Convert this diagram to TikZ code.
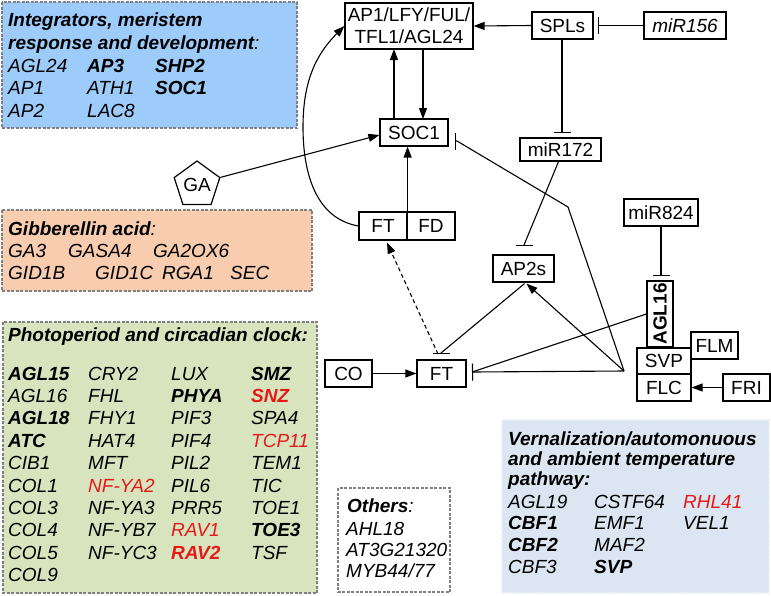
\documentclass[tikz,border=0pt]{standalone}
\usepackage{fontspec}
\setmainfont{Liberation Sans}
\usetikzlibrary{arrows.meta,shapes.geometric,calc}
\definecolor{bluebox}{RGB}{157,203,250}
\definecolor{peachbox}{RGB}{248,204,174}
\definecolor{greenbox}{RGB}{215,228,190}
\definecolor{vernbox}{RGB}{220,230,242}
\definecolor{vernline}{RGB}{236,241,248}
\definecolor{txtred}{RGB}{230,25,25}
\definecolor{panelline}{RGB}{128,128,128}
\newcommand{\fs}{\fontsize{19}{21.7}\selectfont}
\newcommand{\red}[1]{\textcolor{txtred}{#1}}
\begin{document}
\begin{tikzpicture}[x=1pt,y=-1pt,
  box/.style={draw, line width=1.2pt, inner sep=0pt, font=\fs},
  con/.style={line width=1.1pt},
  arr/.style={con, -{Triangle[length=11pt,width=8pt]}},
  inh/.style={con, -{Bar[width=17pt,line width=1.1pt]}},
  panel/.style={draw=panelline, line width=1.2pt, dash pattern=on 3pt off 1.5pt},
  lst/.style={anchor=base west, inner sep=0pt, font=\fs\itshape},
  ttl/.style={anchor=base west, inner sep=0pt, font=\fs\itshape}]
\useasboundingbox (0,0) rectangle (771,595);

% ---------- panels ----------
\draw[panel, fill=bluebox] (2,2) rectangle (297,128);
\draw[panel, fill=peachbox] (2,210) rectangle (312,291);
\draw[panel, fill=greenbox] (3,322) rectangle (317,593);
\draw[panel, fill=white] (338,488) rectangle (450,592);
\draw[panel, draw=vernline, fill=vernbox] (502,420) rectangle (769,593);

% ---------- integrators ----------
\node[ttl] (t1a) at (8,26) {\textbf{Integrators, meristem}};
\node[ttl] (t1b) at (8,49) {\textbf{response and development}:};
\foreach \t [count=\i] in {AGL24,AP1,AP2}
  \node[lst] (ia\i) at (8,{72+22.75*(\i-1)}) {\t};
\foreach \t [count=\i] in {\textbf{AP3},ATH1,LAC8}
  \node[lst] (ib\i) at (87,{72+22.75*(\i-1)}) {\t};
\foreach \t [count=\i] in {\textbf{SHP2},\textbf{SOC1}}
  \node[lst] (ic\i) at (155,{72+22.75*(\i-1)}) {\t};

% ---------- gibberellin ----------
\node[ttl] (t2) at (8,235) {\textbf{Gibberellin acid}:};
\node[lst] (g1) at (8,257.5) {GA3};
\node[lst] (g2) at (68,257.5) {GASA4};
\node[lst] (g3) at (153,257.5) {GA2OX6};
\node[lst] (g4) at (8,279) {GID1B};
\node[lst] (g5) at (95,279) {GID1C};
\node[lst] (g6) at (162,279) {RGA1};
\node[lst] (g7) at (230,279) {SEC};

% ---------- photoperiod ----------
\node[ttl] (t3) at (8,341) {\textbf{Photoperiod and circadian clock:}};
\foreach \t [count=\i] in {\textbf{AGL15},AGL16,\textbf{AGL18},\textbf{ATC},CIB1,COL1,COL3,COL4,COL5,COL9}
  \node[lst] (pa\i) at (8,{380+22.4*(\i-1)}) {\t};
\foreach \t [count=\i] in {CRY2,FHL,FHY1,HAT4,MFT,\red{NF-YA2},NF-YA3,NF-YB7,NF-YC3}
  \node[lst] (pb\i) at (88,{380+22.4*(\i-1)}) {\t};
\foreach \t [count=\i] in {LUX,\textbf{PHYA},PIF3,PIF4,PIL2,PIL6,PRR5,\red{RAV1},\red{\textbf{RAV2}}}
  \node[lst] (pc\i) at (171,{380+22.4*(\i-1)}) {\t};
\foreach \t [count=\i] in {\textbf{SMZ},\red{\textbf{SNZ}},SPA4,\red{TCP11},TEM1,TIC,TOE1,\textbf{TOE3},TSF}
  \node[lst] (pd\i) at (251,{380+22.4*(\i-1)}) {\t};

% ---------- others ----------
\node[ttl] (t4) at (347,512.7) {\textbf{Others}:};
\foreach \t [count=\i] in {AHL18,AT3G21320,MYB44/77}
  \node[lst] (o\i) at (346,{535+21*(\i-1)}) {\t};

% ---------- vernalization ----------
\node[ttl] (t5a) at (508,445) {\textbf{Vernalization/automonuous}};
\node[ttl] (t5b) at (508,465) {\textbf{and ambient temperature}};
\node[ttl] (t5c) at (508,485) {\textbf{pathway:}};
\foreach \t [count=\i] in {AGL19,\textbf{CBF1},\textbf{CBF2},CBF3}
  \node[lst] (va\i) at (508,{508+21.8*(\i-1)}) {\t};
\foreach \t [count=\i] in {CSTF64,EMF1,MAF2,\textbf{SVP}}
  \node[lst] (vb\i) at (594,{508+21.8*(\i-1)}) {\t};
\foreach \t [count=\i] in {\red{RHL41},VEL1}
  \node[lst] (vc\i) at (683,{508+21.8*(\i-1)}) {\t};

% ---------- network nodes ----------
\node[box, minimum width=128pt, minimum height=46pt, align=center] (ap1) at (409,26) {AP1/LFY/FUL/\\TFL1/AGL24};
\node[box, minimum width=61pt, minimum height=27pt] (spls) at (562.5,25.5) {SPLs};
\node[box, minimum width=82pt, minimum height=27pt] (mir156) at (685,25.5) {\itshape miR156};
\node[box, minimum width=68pt, minimum height=27pt] (soc1) at (414,132.5) {SOC1};
\node[box, minimum width=81pt, minimum height=23pt] (mir172) at (560.5,149.5) {miR172};
\node[box, minimum width=48pt, minimum height=28pt] (ftc) at (383,226) {FT};
\node[box, minimum width=48pt, minimum height=28pt] (fdc) at (431,226) {FD};
\node[box, minimum width=61pt, minimum height=27pt] (ap2s) at (523.5,268.5) {AP2s};
\node[box, minimum width=74pt, minimum height=27pt] (mir824) at (661,212.5) {miR824};
\node[box, rotate=90, minimum width=66pt, minimum height=26pt, font=\fs\bfseries] (agl16) at (660,314) {AGL16};
\node[box, minimum width=54pt, minimum height=26pt] (svp) at (664,361) {SVP};
\node[box, minimum width=54pt, minimum height=27pt] (flc) at (664,387.5) {FLC};
\node[box, minimum width=47pt, minimum height=27pt] (flm) at (714.5,345.5) {FLM};
\node[box, minimum width=47pt, minimum height=27pt] (fri) at (746.5,387.5) {FRI};
\node[box, minimum width=47pt, minimum height=27pt] (co) at (348.5,373.5) {CO};
\node[box, minimum width=49pt, minimum height=27pt] (ft) at (441.5,373.5) {FT};
\node[draw, line width=1.2pt, regular polygon, regular polygon sides=5, minimum size=46pt, inner sep=0pt, font=\fs] (ga) at (197,185) {GA};

% ---------- helper coordinates ----------
\coordinate (hub) at (624,371);
\coordinate (bend) at (568,207);
\coordinate (socbar) at (455,141);
\coordinate (ftbarR) at (472,372);
\coordinate (ftbarT) at (441,354);
\coordinate (ap2sbar) at (524,246);
\coordinate (mir172bar) at (562,133);
\coordinate (splsbar) at (598,25.5);
\coordinate (aglbar) at (661,276);
\coordinate (curvemid) at (303,127);
\coordinate (socupS) at (394,119);
\coordinate (socupE) at (394,49);
\coordinate (socdnS) at (423,49);
\coordinate (socdnE) at (423,119);

% ---------- connectors ----------
\draw[arr] (spls.west) -- (ap1.east);
\draw[inh] (mir156.west) -- (splsbar);
\draw[inh] (spls.south -| mir172bar) -- (mir172bar);
\draw[arr] (socupS) -- (socupE);
\draw[arr] (socdnS) -- (socdnE);
\draw[arr] (ga.corner 5) -- ($(soc1.west)+(0,2.5)$);
\draw[arr] (ftc.north east) -- (ftc.north east |- soc1.south);
\draw[arr] (ftc.west) to[out=170,in=270] (curvemid) to[out=90,in=225] (ap1.west);
\draw[inh] ($(mir172.south)+(-2,0)$) -- ($(ap2sbar)+(0,-1)$) -- (ap2sbar);
\draw[inh] (hub) -- (bend) -- ($(socbar)+(2,0)$) -- (socbar);
\draw[arr] (hub) -- ($(ap2s.south)+(3,1)$);
\draw[inh] (hub) -- (ftbarR);
\draw[con] (agl16.north) -- (ftbarR);
\draw[inh] ($(ap2s.south)+(1,1)$) -- ($(ftbarT)+(0,-1)$) -- (ftbarT);
\draw[arr, dashed, dash pattern=on 4pt off 3pt] ($(ftbarT)+(-3,0)$) -- ($(ftc.south)+(4,2)$);
\draw[arr] (co.east) -- (ft.west);
\draw[arr] (fri.west) -- (flc.east);
\draw[inh] (mir824.south) -- (aglbar);
\end{tikzpicture}
\end{document}
